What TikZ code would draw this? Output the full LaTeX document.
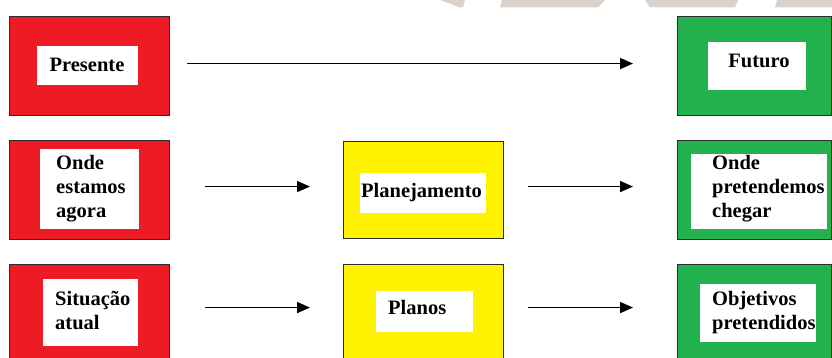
\documentclass[tikz,border=0pt]{standalone}
\usepackage{fontspec}
\setmainfont{Liberation Serif}
\usetikzlibrary{arrows.meta}
\definecolor{boxred}{HTML}{ED1C24}
\definecolor{boxyellow}{HTML}{FFF200}
\definecolor{boxgreen}{HTML}{22B14C}
\definecolor{edgegray}{HTML}{2B2B2B}
\definecolor{wmgray}{HTML}{D9D2CD}
\begin{document}
\begin{tikzpicture}[x=1pt,y=-1pt,
  outerbox/.style={draw=edgegray,line width=1.1pt,minimum width=160pt,minimum height=99pt,inner sep=0pt,anchor=north west},
  innerbox/.style={fill=white,inner sep=0pt,anchor=north west},
  boxtext/.style={font=\bfseries\fontsize{20.5}{24}\selectfont,inner sep=0pt,text=black},
  arr/.style={line width=1.6pt,-{Triangle[length=13pt,width=11pt]}}]
\useasboundingbox (0,0) rectangle (832,358);
\clip (0,0) rectangle (832,358);

% faint watermark fragments along the top edge
\fill[wmgray] (440,0) -- (465,0) -- (463,7.5) -- (460,7.5) -- cycle;
\fill[wmgray] (502,0) -- (605,0) -- (598,7.5) -- (500,7.5) -- cycle;
\fill[wmgray] (645,0) -- (738,0) -- (735,7.5) -- (650,7.5) -- cycle;
\fill[wmgray] (777,0) -- (832,0) -- (832,7.5) -- (775,7.5) -- cycle;

% row 1
\node[outerbox,fill=boxred] (pres) at (9,16) {};
\node[innerbox,minimum width=101pt,minimum height=39pt] (presIn) at (37,46) {};
\node[boxtext,anchor=base] (presT) at (87,72) {Presente};

\node[outerbox,fill=boxgreen,minimum width=154pt] (fut) at (677,16) {};
\node[innerbox,minimum width=98pt,minimum height=48pt] (futIn) at (708,42) {};
\node[boxtext,anchor=base] (futT) at (759,68) {Futuro};

% row 2
\node[outerbox,fill=boxred] (onde) at (9,140) {};
\node[innerbox,minimum width=99pt,minimum height=80pt] (ondeIn) at (40,149) {};
\node[boxtext,anchor=base west] (ondeT) at (56,170)
  {\begin{tabular}[t]{@{}l@{}}Onde\\estamos\\agora\end{tabular}};

\node[outerbox,fill=boxyellow,minimum height=97pt] (plan) at (343,141) {};
\node[innerbox,minimum width=126pt,minimum height=40pt] (planIn) at (360,173) {};
\node[boxtext,anchor=base] (planT) at (421.5,197) {Planejamento};

\node[outerbox,fill=boxgreen,minimum width=154pt] (cheg) at (677,140) {};
\node[innerbox,minimum width=136pt,minimum height=75pt] (chegIn) at (691,154) {};
\node[boxtext,anchor=base west] (chegT) at (712,170)
  {\begin{tabular}[t]{@{}l@{}}Onde\\pretendemos\\chegar\end{tabular}};

% row 3
\node[outerbox,fill=boxred] (sit) at (9,264) {};
\node[innerbox,minimum width=95pt,minimum height=67pt] (sitIn) at (43,279) {};
\node[boxtext,anchor=base west] (sitT) at (55,305)
  {\begin{tabular}[t]{@{}l@{}}Situação\\atual\end{tabular}};

\node[outerbox,fill=boxyellow] (planos) at (343,264) {};
\node[innerbox,minimum width=97pt,minimum height=41pt] (planosIn) at (376,291) {};
\node[boxtext,anchor=base west] (planosT) at (388,314) {Planos};

\node[outerbox,fill=boxgreen,minimum width=154pt] (obj) at (677,264) {};
\node[innerbox,minimum width=116pt,minimum height=58pt] (objIn) at (700,284) {};
\node[boxtext,anchor=base west] (objT) at (712,305)
  {\begin{tabular}[t]{@{}l@{}}Objetivos\\pretendidos\end{tabular}};

% connectors
\draw[arr,shorten <=17pt,shorten >=44pt] ([yshift=2.5pt]pres.east) -- ([yshift=2.5pt]fut.west);
\draw[arr,shorten <=35pt,shorten >=33pt] ([yshift=3.5pt]onde.east) -- ([yshift=3.5pt]plan.west);
\draw[arr,shorten <=24pt,shorten >=44pt] ([yshift=3.5pt]plan.east) -- ([yshift=3.5pt]cheg.west);
\draw[arr,shorten <=35pt,shorten >=33pt] ([yshift=6.5pt]sit.east) -- ([yshift=6.5pt]planos.west);
\draw[arr,shorten <=24pt,shorten >=44pt] ([yshift=6.5pt]planos.east) -- ([yshift=6.5pt]obj.west);
\end{tikzpicture}
\end{document}
